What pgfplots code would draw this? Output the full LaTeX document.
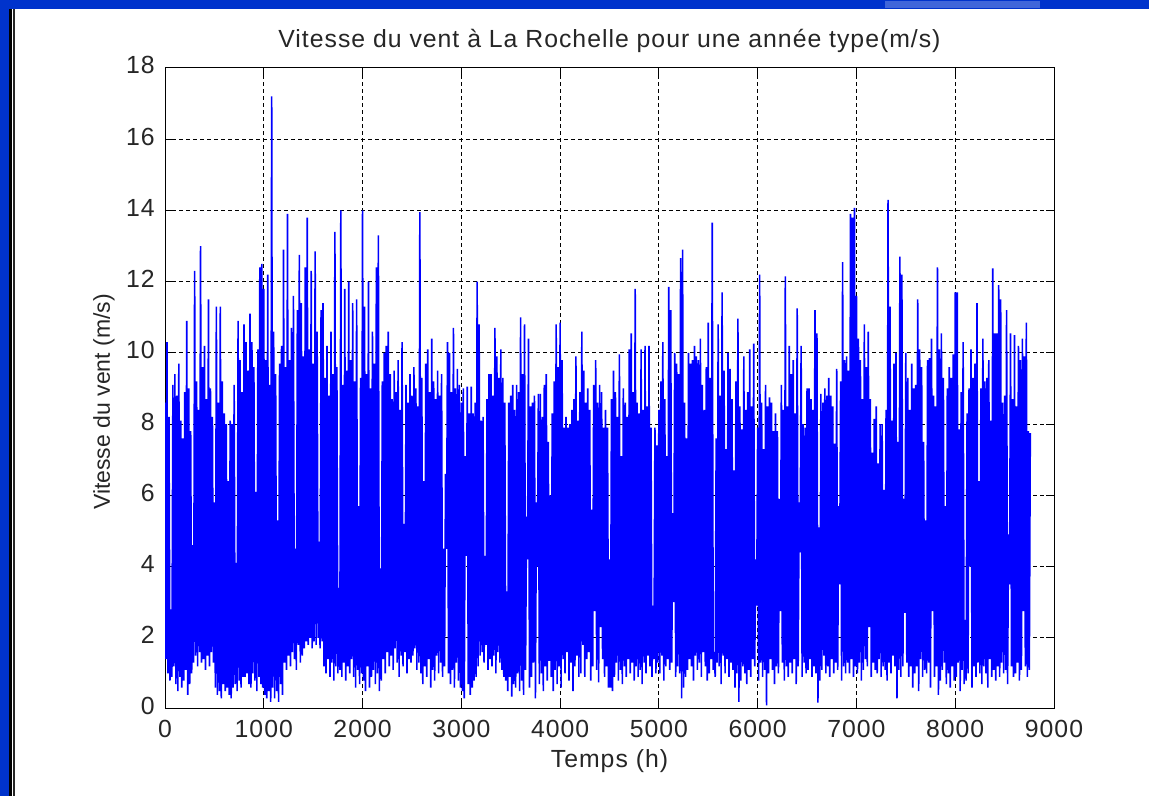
\documentclass[border=0pt]{standalone}
\usepackage{fontspec}
\setmainfont{Liberation Sans}
\newfontfamily\mfont[LetterSpace=4]{Liberation Sans}
\usepackage{pgfplots}
\usepackage{pgfplotstable}
\pgfplotsset{compat=1.18}
\definecolor{frameblue}{RGB}{0,51,204}
\definecolor{lineblue}{RGB}{0,0,255}

\pgfplotstableread[row sep=\\]{
v\\
8.6\\ 1.4\\ 10.3\\ 1.0\\ 8.2\\ 0.8\\ 2.8\\ 0.9\\ 9.1\\ 1.2\\
9.4\\ 0.7\\ 8.8\\ 0.5\\ 9.7\\ 0.9\\ 8.1\\ 0.6\\ 7.6\\ 0.8\\
8.9\\ 1.1\\ 10.9\\ 0.4\\ 9.0\\ 0.7\\ 7.8\\ 1.0\\ 4.6\\ 1.3\\
12.3\\ 1.5\\ 9.2\\ 1.2\\ 8.4\\ 1.6\\ 13.0\\ 1.3\\ 9.6\\ 1.4\\
10.2\\ 1.1\\ 8.7\\ 1.5\\ 11.5\\ 1.2\\ 9.0\\ 1.6\\ 8.2\\ 1.3\\
5.8\\ 0.6\\ 11.3\\ 0.4\\ 8.6\\ 0.5\\ 11.3\\ 0.3\\ 9.2\\ 0.7\\
8.3\\ 0.5\\ 8.0\\ 0.6\\ 6.4\\ 0.4\\ 8.1\\ 0.3\\ 8.0\\ 0.6\\
9.1\\ 0.7\\ 4.1\\ 0.5\\ 10.9\\ 0.8\\ 9.8\\ 0.6\\ 8.9\\ 0.9\\
10.8\\ 0.9\\ 10.3\\ 1.0\\ 9.5\\ 0.7\\ 11.1\\ 0.6\\ 10.3\\ 1.0\\
9.6\\ 0.8\\ 6.1\\ 0.5\\ 10.1\\ 0.9\\ 12.4\\ 0.7\\ 12.5\\ 0.6\\
11.8\\ 0.4\\ 9.8\\ 0.3\\ 12.2\\ 0.5\\ 9.1\\ 0.2\\ 17.2\\ 0.6\\
10.6\\ 0.3\\ 9.4\\ 0.5\\ 5.3\\ 0.2\\ 9.7\\ 0.7\\ 10.2\\ 0.4\\
12.9\\ 1.3\\ 9.6\\ 1.1\\ 13.9\\ 1.5\\ 9.8\\ 1.2\\ 10.7\\ 1.6\\
11.6\\ 1.4\\ 4.5\\ 1.1\\ 11.2\\ 1.8\\ 12.75\\ 1.3\\ 11.4\\ 1.5\\
9.9\\ 1.7\\ 12.4\\ 1.9\\ 13.8\\ 1.8\\ 10.1\\ 2.0\\ 12.3\\ 1.7\\
9.7\\ 1.9\\ 12.85\\ 1.8\\ 10.6\\ 2.0\\ 4.7\\ 1.7\\ 11.2\\ 1.9\\
11.4\\ 1.2\\ 9.3\\ 1.0\\ 10.2\\ 1.4\\ 8.8\\ 0.9\\ 10.6\\ 1.3\\
9.4\\ 0.8\\ 13.4\\ 1.2\\ 9.6\\ 1.0\\ 3.4\\ 1.1\\ 14.0\\ 0.9\\
9.1\\ 1.3\\ 11.8\\ 0.8\\ 9.5\\ 1.2\\ 12.0\\ 1.0\\ 9.8\\ 1.4\\
11.4\\ 0.9\\ 9.2\\ 0.6\\ 11.5\\ 1.1\\ 5.7\\ 0.7\\ 9.3\\ 1.0\\
14.0\\ 0.8\\ 11.3\\ 0.5\\ 9.4\\ 1.2\\ 12.0\\ 0.6\\ 9.0\\ 0.9\\
10.6\\ 1.1\\ 9.7\\ 0.7\\ 12.4\\ 1.0\\ 13.3\\ 0.5\\ 3.95\\ 0.8\\
9.2\\ 1.4\\ 10.0\\ 1.0\\ 10.2\\ 1.6\\ 10.6\\ 1.2\\ 9.4\\ 1.5\\
8.7\\ 1.1\\ 9.5\\ 1.7\\ 8.9\\ 1.3\\ 9.8\\ 0.9\\ 8.4\\ 1.5\\
10.3\\ 1.2\\ 5.2\\ 1.6\\ 9.1\\ 1.0\\ 8.6\\ 1.4\\ 9.4\\ 1.3\\
8.8\\ 1.5\\ 9.6\\ 1.7\\ 9.0\\ 1.1\\ 8.5\\ 1.3\\ 13.95\\ 1.0\\
9.3\\ 0.7\\ 6.4\\ 1.2\\ 9.7\\ 0.9\\ 10.1\\ 1.4\\ 8.9\\ 0.6\\
10.4\\ 1.1\\ 9.2\\ 0.8\\ 8.7\\ 1.5\\ 9.5\\ 1.0\\ 8.8\\ 1.3\\
9.4\\ 0.9\\ 4.5\\ 1.2\\ 6.6\\ 4.5\\ 10.3\\ 1.0\\ 10.0\\ 0.7\\
8.9\\ 1.1\\ 10.7\\ 0.6\\ 9.0\\ 1.3\\ 9.55\\ 0.8\\ 9.1\\ 0.6\\
8.6\\ 0.5\\ 9.0\\ 0.3\\ 7.1\\ 4.3\\ 9.05\\ 0.7\\ 8.3\\ 0.4\\
9.05\\ 0.6\\ 8.3\\ 0.8\\ 8.6\\ 0.9\\ 12.0\\ 1.2\\ 10.8\\ 1.5\\
8.1\\ 1.6\\ 8.2\\ 1.3\\ 4.3\\ 1.8\\ 8.7\\ 1.1\\ 9.4\\ 1.4\\
9.4\\ 1.2\\ 8.8\\ 1.5\\ 10.7\\ 1.0\\ 9.9\\ 1.6\\ 9.3\\ 1.3\\
10.1\\ 1.1\\ 9.3\\ 0.9\\ 8.6\\ 0.8\\ 3.3\\ 0.5\\ 8.6\\ 0.9\\
8.8\\ 0.35\\ 9.1\\ 0.7\\ 8.4\\ 0.6\\ 9.1\\ 1.0\\ 8.9\\ 0.5\\
11.0\\ 0.8\\ 9.4\\ 0.4\\ 10.8\\ 1.1\\ 5.4\\ 4.2\\ 10.4\\ 0.6\\
8.5\\ 0.9\\ 8.6\\ 1.3\\ 8.8\\ 0.3\\ 5.8\\ 4.0\\ 8.85\\ 0.7\\
8.85\\ 1.0\\ 8.2\\ 0.5\\ 9.1\\ 1.2\\ 9.4\\ 0.8\\ 7.5\\ 1.35\\
6.0\\ 0.9\\ 8.3\\ 0.5\\ 9.2\\ 1.1\\ 10.8\\ 0.7\\ 9.6\\ 1.2\\
10.85\\ 0.6\\ 9.8\\ 1.4\\ 7.9\\ 1.0\\ 8.2\\ 1.6\\ 7.9\\ 0.8\\
8.0\\ 1.3\\ 8.4\\ 0.5\\ 8.7\\ 1.2\\ 9.9\\ 1.5\\ 8.1\\ 0.9\\
8.9\\ 1.0\\ 10.6\\ 1.8\\ 9.5\\ 0.9\\ 8.6\\ 1.4\\ 9.0\\ 1.6\\
8.4\\ 0.8\\ 5.6\\ 1.2\\ 9.1\\ 2.75\\ 9.8\\ 1.1\\ 8.6\\ 0.75\\
9.1\\ 2.3\\ 8.9\\ 1.4\\ 7.9\\ 0.9\\ 8.4\\ 1.2\\ 7.9\\ 0.6\\
4.2\\ 0.6\\ 8.7\\ 0.5\\ 9.5\\ 0.9\\ 8.9\\ 1.3\\ 8.2\\ 0.8\\
9.96\\ 1.1\\ 7.1\\ 0.7\\ 9.0\\ 1.2\\ 8.6\\ 0.9\\ 8.2\\ 1.4\\
10.1\\ 1.0\\ 10.55\\ 1.3\\ 8.9\\ 0.8\\ 11.8\\ 1.2\\ 8.6\\ 0.9\\
8.3\\ 1.1\\ 10.1\\ 0.7\\ 8.4\\ 1.3\\ 10.2\\ 1.0\\ 8.5\\ 1.5\\
10.2\\ 1.2\\ 7.9\\ 0.9\\ 2.9\\ 1.4\\ 7.9\\ 1.0\\ 7.4\\ 1.3\\
8.4\\ 1.0\\ 9.2\\ 1.5\\ 10.3\\ 0.8\\ 8.7\\ 1.2\\ 7.1\\ 1.4\\
11.85\\ 1.1\\ 11.2\\ 1.3\\ 5.5\\ 3.0\\ 10.0\\ 0.9\\ 9.7\\ 1.2\\
9.4\\ 1.0\\ 12.66\\ 0.3\\ 12.9\\ 0.6\\ 8.6\\ 0.9\\ 7.6\\ 1.1\\
10.0\\ 1.4\\ 9.7\\ 1.2\\ 9.8\\ 0.8\\ 10.2\\ 1.5\\ 9.9\\ 1.1\\
9.8\\ 1.3\\ 10.4\\ 0.9\\ 9.1\\ 1.6\\ 8.4\\ 1.2\\ 9.6\\ 0.8\\
10.85\\ 1.0\\ 9.3\\ 1.4\\ 13.66\\ 1.1\\ 1.6\\ 0.9\\ 7.6\\ 1.3\\
10.8\\ 1.2\\ 8.8\\ 0.7\\ 11.7\\ 1.5\\ 9.5\\ 1.0\\ 7.3\\ 1.4\\
10.0\\ 0.9\\ 9.55\\ 1.3\\ 8.7\\ 1.1\\ 6.7\\ 0.6\\ 9.2\\ 1.0\\
10.96\\ 0.2\\ 8.5\\ 0.8\\ 7.85\\ 1.2\\ 9.9\\ 1.0\\ 8.4\\ 0.7\\
8.9\\ 1.1\\ 10.1\\ 0.9\\ 8.5\\ 1.4\\ 10.26\\ 1.2\\ 4.2\\ 2.9\\
7.9\\ 0.8\\ 12.2\\ 1.3\\ 8.6\\ 0.9\\ 7.3\\ 1.1\\ 9.1\\ 0.1\\
8.5\\ 1.0\\ 8.75\\ 1.4\\ 8.6\\ 1.1\\ 7.8\\ 0.7\\ 8.3\\ 1.2\\
7.8\\ 1.0\\ 5.9\\ 2.75\\ 9.1\\ 1.3\\ 8.4\\ 0.8\\ 12.15\\ 1.2\\
8.5\\ 0.9\\ 10.2\\ 1.3\\ 9.4\\ 1.0\\ 9.8\\ 1.4\\ 8.3\\ 0.7\\
11.25\\ 1.2\\ 5.8\\ 4.4\\ 10.2\\ 0.9\\ 8.0\\ 1.3\\ 7.9\\ 1.0\\
9.0\\ 1.1\\ 9.0\\ 1.4\\ 8.7\\ 0.9\\ 8.4\\ 1.2\\ 11.2\\ 1.0\\
10.55\\ 0.18\\ 5.1\\ 0.8\\ 8.85\\ 1.1\\ 8.6\\ 1.5\\ 9.0\\ 1.0\\
8.8\\ 1.2\\ 9.3\\ 0.9\\ 8.8\\ 1.4\\ 8.5\\ 1.0\\ 7.45\\ 1.3\\
9.55\\ 1.1\\ 5.7\\ 3.5\\ 9.2\\ 0.8\\ 12.55\\ 1.2\\ 9.8\\ 1.0\\
9.9\\ 1.3\\ 9.5\\ 1.0\\ 13.9\\ 1.4\\ 13.8\\ 0.9\\ 14.07\\ 1.2\\
11.6\\ 1.0\\ 10.4\\ 1.3\\ 9.8\\ 0.8\\ 8.7\\ 1.1\\ 10.8\\ 1.4\\
9.6\\ 1.2\\ 10.6\\ 2.3\\ 8.7\\ 0.9\\ 7.2\\ 1.3\\ 8.15\\ 1.1\\
8.5\\ 1.0\\ 6.9\\ 1.4\\ 8.0\\ 0.9\\ 8.0\\ 1.2\\ 6.15\\ 1.1\\
8.4\\ 0.8\\ 14.3\\ 1.3\\ 11.3\\ 1.0\\ 8.1\\ 1.5\\ 9.7\\ 1.2\\
10.0\\ 0.3\\ 7.5\\ 1.1\\ 12.7\\ 0.9\\ 12.2\\ 1.2\\ 5.9\\ 2.7\\
10.0\\ 1.3\\ 9.3\\ 0.9\\ 8.4\\ 1.2\\ 9.7\\ 0.6\\ 9.0\\ 1.0\\
9.1\\ 1.2\\ 11.5\\ 0.5\\ 10.1\\ 1.4\\ 9.6\\ 0.9\\ 7.5\\ 1.1\\
5.3\\ 1.0\\ 9.8\\ 1.3\\ 9.85\\ 0.6\\ 10.4\\ 2.75\\ 8.8\\ 0.9\\
8.5\\ 1.2\\ 12.4\\ 0.4\\ 10.1\\ 0.8\\ 10.55\\ 1.1\\ 9.3\\ 1.3\\
5.7\\ 0.7\\ 9.0\\ 1.0\\ 9.6\\ 0.6\\ 9.3\\ 1.2\\ 9.96\\ 0.8\\
11.7\\ 0.9\\ 11.7\\ 1.3\\ 7.85\\ 0.5\\ 8.9\\ 1.1\\ 10.3\\ 0.7\\
2.5\\ 0.8\\ 8.3\\ 1.0\\ 9.0\\ 4.0\\ 10.1\\ 0.6\\ 9.3\\ 1.2\\
9.7\\ 0.9\\ 11.4\\ 1.3\\ 6.4\\ 1.0\\ 9.0\\ 0.7\\ 10.4\\ 1.2\\
9.2\\ 1.0\\ 9.3\\ 0.6\\ 9.8\\ 1.4\\ 8.1\\ 0.9\\ 12.37\\ 1.1\\
10.55\\ 0.8\\ 10.55\\ 1.2\\ 11.9\\ 0.9\\ 11.5\\ 1.3\\ 8.6\\ 1.0\\
8.8\\ 1.1\\ 11.2\\ 0.7\\ 4.9\\ 3.5\\ 10.55\\ 1.2\\ 8.7\\ 0.9\\
10.5\\ 1.0\\ 8.5\\ 1.3\\ 10.2\\ 0.8\\ 9.8\\ 1.1\\ 10.4\\ 2.75\\
9.9\\ 1.2\\ 10.85\\ 0.9\\ 7.8\\ 1.1\\ 7.75\\
}\wind

\begin{document}
\begin{tikzpicture}
\useasboundingbox (0,0) rectangle (574.5pt,398pt);
\fill[white] (0,0) rectangle (574.5pt,398pt);
\fill[frameblue] (0,393.5pt) rectangle (574.5pt,398pt);
\fill[frameblue] (0,0) rectangle (4.5pt,398pt);
\fill[frameblue!75!white] (442.5pt,394.2pt) rectangle (520pt,397.5pt);
\fill[black] (4.5pt,0) rectangle (6pt,393.5pt);
\fill[black!85] (6.4pt,0) rectangle (7.5pt,393.5pt);
\begin{axis}[
  scale only axis,
  width=444.5pt, height=320.5pt,
  at={(82.5pt,43.5pt)}, anchor=south west,
  xmin=0, xmax=9000, ymin=0, ymax=18,
  xtick={0,1000,...,9000}, ytick={0,2,...,18},
  tick align=inside, tick pos=both, major tick length=4pt,
  grid=major,
  major grid style={black, line width=0.5pt, dash pattern=on 2pt off 1.5pt},
  axis line style={black, line width=0.5pt},
  tick style={black, line width=0.5pt},
  /pgf/number format/1000 sep={},
  /pgf/number format/assume math mode=true,
  tick label style={font=\mfont\fontsize{12.4}{14}\selectfont, inner sep=0pt, text=black!85},
  xticklabel style={anchor=base, yshift=-14pt},
  yticklabel style={anchor=base east, xshift=-5pt, yshift=-3pt},
  title={Vitesse du vent à La Rochelle pour une année type(m/s)},
  title style={at={(0.5,1)}, anchor=base, yshift=4pt, inner sep=0pt, font=\mfont\fontsize{12.4}{14}\selectfont, text=black!85},
  xlabel={Temps (h)},
  xlabel style={at={(0.5,0)}, anchor=base, yshift=-29pt, inner sep=0pt, font=\mfont\fontsize{12.4}{14}\selectfont, text=black!85},
  ylabel={Vitesse du vent (m/s)},
  ylabel style={at={(-0.0619,0.479)}, anchor=base, inner sep=0pt, font=\fontsize{11.5}{13}\selectfont, text=black!85},
]
\addplot[lineblue, line width=0.8pt, line join=miter] table[x expr=\coordindex*10, y=v] {\wind};
\end{axis}
\end{tikzpicture}
\end{document}
